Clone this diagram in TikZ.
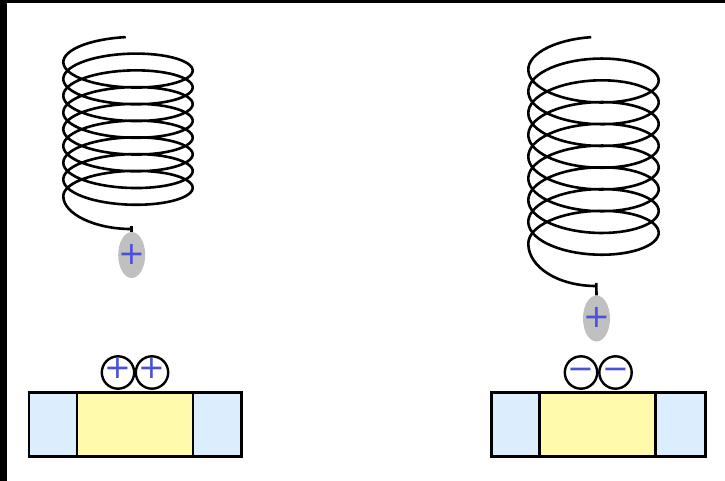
\documentclass[tikz,border=0pt]{standalone}
\usepackage{fontspec}
\newfontfamily\signfont{DejaVu Sans}
\usetikzlibrary{shapes.geometric}

\definecolor{signblue}{HTML}{4A50DA}
\definecolor{padblue}{HTML}{DCEEFD}
\definecolor{padyellow}{HTML}{FFFBAB}
\definecolor{chargegray}{HTML}{C0C0C0}

\begin{document}
\begin{tikzpicture}[x=1pt, y=-1pt,
  coil/.style={line width=2.6pt},
  charge/.style={ellipse, fill=chargegray, minimum width=27pt, minimum height=46pt, inner sep=0pt},
  ion/.style={circle, draw, line width=2.4pt, minimum size=32.4pt, inner sep=0pt},
  sign/.style={font=\signfont\fontsize{32}{32}\selectfont, text=signblue, inner sep=0pt},
  pad/.style={draw, line width=2.5pt}]

\useasboundingbox (0,0) rectangle (725,481);
% dark frame edges
\fill (0,0) rectangle (7,481);
\fill (0,0) rectangle (725,3);

% ---------- left spring with positive charge ----------
\draw[coil] plot[domain=2:2970, samples=500]
  ({128 - 64.7*sin(\x)}, {58 + 16.75*(\x/360) - 21*cos(\x)})
  .. controls (63.3,214) and (95,229) .. (131,229) coordinate (tailL);
\node[charge] (qL) at (131.7,255) {};
\node[sign] (sL) at (131.7,254) {+};
\draw[coil] (131.7,226) -- (qL.north);

% ---------- right spring with positive charge ----------
\draw[coil] plot[domain=2:2970, samples=500]
  ({593.5 - 65.2*sin(\x)}, {64.2 + 21.75*(\x/360) - 27.2*cos(\x)})
  .. controls (528.3,267) and (558,286) .. (596,286) coordinate (tailR);
\node[charge] (qR) at (596.5,318.5) {};
\node[sign] (sR) at (596.5,317.5) {+};
\draw[coil] (596.3,283) -- (qR.north);

% ---------- left plate ----------
\draw[pad, fill=padblue] (29,392.3) rectangle (77,456.7);
\draw[pad, fill=padyellow] (77,392.3) rectangle (193,456.7);
\draw[pad, fill=padblue] (193,392.3) rectangle (241.3,456.7);
\node[ion] (iL1) at (118,372.5) {};
\node[ion] (iL2) at (152,372.5) {};
\node[sign] at ([yshift=4.5pt]iL1.center) {+};
\node[sign] at ([yshift=4.5pt]iL2.center) {+};

% ---------- right plate ----------
\draw[pad, fill=padblue] (491.3,392.3) rectangle (539.7,456.3);
\draw[pad, fill=padyellow] (539.7,392.3) rectangle (655.7,456.3);
\draw[pad, fill=padblue] (655.7,392.3) rectangle (705.3,456.3);
\node[ion] (iR1) at (581,372.5) {};
\node[ion] (iR2) at (615.5,372.5) {};
\node[sign] at ([yshift=3.5pt]iR1.center) {\vphantom{+}−};
\node[sign] at ([yshift=3.5pt]iR2.center) {\vphantom{+}−};
\end{tikzpicture}
\end{document}
